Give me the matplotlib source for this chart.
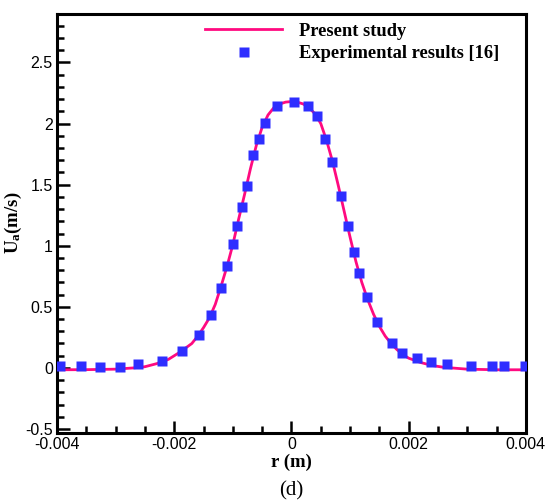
import matplotlib
matplotlib.use("Agg")
import matplotlib.pyplot as plt
from matplotlib.ticker import MultipleLocator

# present study (line)
r_model = [-0.004, -0.0035, -0.003, -0.0027, -0.0025, -0.0023, -0.0021, -0.0019,
           -0.0017, -0.0016, -0.0015, -0.0014, -0.0013, -0.0012, -0.0011, -0.001,
           -0.0009, -0.0008, -0.0007, -0.0006, -0.0005, -0.0004, -0.0003, -0.0002,
           -0.0001, 0.0, 0.0001, 0.0002, 0.0003, 0.0004, 0.0005, 0.0006, 0.0007,
           0.0008, 0.0009, 0.001, 0.0011, 0.0012, 0.0013, 0.0014, 0.0015, 0.0016,
           0.0017, 0.0018, 0.0019, 0.002, 0.0022, 0.0024, 0.0026, 0.003, 0.0035, 0.004]
u_model = [-0.015, -0.014, -0.01, 0.0, 0.01, 0.035, 0.07, 0.13,
           0.20, 0.26, 0.33, 0.41, 0.52, 0.67, 0.83, 1.01,
           1.22, 1.42, 1.63, 1.82, 1.97, 2.07, 2.13, 2.16,
           2.175, 2.18, 2.175, 2.16, 2.13, 2.08, 2.0, 1.86, 1.69,
           1.49, 1.28, 1.07, 0.87, 0.70, 0.56, 0.44, 0.34, 0.26,
           0.20, 0.15, 0.11, 0.08, 0.045, 0.02, 0.005, -0.01, -0.015, -0.015]

# experimental results [16]
r_exp = [-0.00395, -0.00359, -0.00327, -0.00293, -0.00262, -0.00221, -0.00187,
         -0.00158, -0.00138, -0.00121, -0.00110, -0.00100, -0.00093, -0.00085,
         -0.00076, -0.00065, -0.00056, -0.00046, -0.00025, 0.00004, 0.00028,
         0.00043, 0.00058, 0.00070, 0.00084, 0.00096, 0.00106, 0.00116, 0.00129,
         0.00146, 0.00171, 0.00189, 0.00214, 0.00238, 0.00265, 0.00306, 0.00342,
         0.00363, 0.00398]
u_exp = [0.019, 0.019, 0.011, 0.011, 0.035, 0.060, 0.141,
         0.270, 0.434, 0.657, 0.832, 1.017, 1.164, 1.320,
         1.492, 1.745, 1.876, 2.005, 2.146, 2.178, 2.146,
         2.065, 1.876, 1.688, 1.410, 1.164, 0.952, 0.780, 0.584,
         0.380, 0.208, 0.126, 0.082, 0.052, 0.035, 0.019, 0.019,
         0.019, 0.019]

x_ticks = [-0.004, -0.002, 0, 0.002, 0.004]
x_labels = ["-0.004", "-0.002", "0", "0.002", "0.004"]
y_ticks = [-0.5, 0, 0.5, 1, 1.5, 2, 2.5]
y_labels = ["-0.5", "0", "0.5", "1", "1.5", "2", "2.5"]

plt.rcParams["mathtext.fontset"] = "custom"
plt.rcParams["mathtext.bf"] = "Liberation Serif:bold"
plt.rcParams["mathtext.rm"] = "Liberation Serif"

serif = ["Liberation Serif", "DejaVu Serif"]
sans = ["Liberation Sans", "DejaVu Sans"]

fig = plt.figure(figsize=(5.45, 5.01), dpi=100)
ax = fig.add_axes([0.1046, 0.1363, 0.8604, 0.8367])

ax.plot(r_model, u_model, "-", color="#ff0a80", lw=2, label="Present study", zorder=2)
ax.plot(r_exp, u_exp, "s", color="#2e2eff", ms=6.5, mec="none",
        label="Experimental results [16]", zorder=3)

ax.set_xlim(-0.004, 0.004)
ax.set_ylim(-0.53, 2.9)
ax.xaxis.set_minor_locator(MultipleLocator(0.0005))
ax.yaxis.set_minor_locator(MultipleLocator(0.1))
ax.set_xticks(x_ticks)
ax.set_xticklabels(x_labels)
ax.set_yticks(y_ticks)
ax.set_yticklabels(y_labels)

ax.tick_params(which="both", direction="in", top=False, right=False, width=1.8)
ax.tick_params(which="major", length=9, labelsize=11.5, pad=3)
ax.tick_params(which="minor", length=5)
for lab in ax.get_xticklabels() + ax.get_yticklabels():
    lab.set_family(sans)
for s in ax.spines.values():
    s.set_linewidth(2.2)

ax.set_xlabel("r (m)", family=serif, fontweight="bold", fontsize=13.5, labelpad=1)
ax.set_ylabel(r"$\mathbf{U_a}$(m/s)", family=serif, fontweight="bold", fontsize=13.5, labelpad=1)
fig.text(0.535, 0.012, "(d)", family=serif, fontsize=15, ha="center")

leg = ax.legend(loc="upper right", frameon=False,
                prop={"family": serif, "weight": "bold", "size": 13.3},
                handlelength=4.2, handletextpad=0.9, borderaxespad=0.3,
                borderpad=0.2, labelspacing=0.3, bbox_to_anchor=(0.963, 1.0))

fig.savefig("out.png", dpi=100)
